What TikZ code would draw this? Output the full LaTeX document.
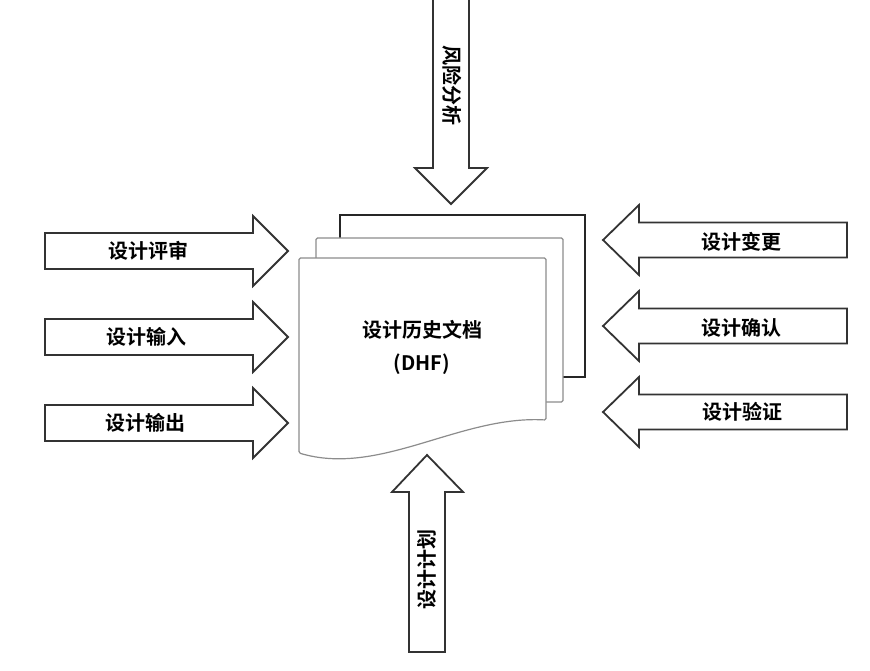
\documentclass[tikz,border=0pt]{standalone}
\usepackage{fontspec}
\newfontfamily\cjk{Noto Sans CJK SC Bold}
\begin{document}
\begin{tikzpicture}[x=1pt,y=-1pt,
  arr/.style={draw=black!80,line width=1.8pt,fill=white,line join=miter},
  lbl/.style={font=\cjk\fontsize{20}{20}\selectfont,inner sep=0pt},
  pgback/.style={draw=black!85,line width=1.8pt,fill=white},
  pgfront/.style={draw=black!45,line width=1.2pt,fill=white,rounded corners=1.5pt}]
\useasboundingbox (0,0) rectangle (870,671);
\clip (0,0) rectangle (870,671);
% pages
\path[pgback] (340,377) -- (340,215) -- (585,215) -- (585,377) -- cycle;
\path[pgfront] (316,402) -- (316,238) -- (563,238) -- (563,402) -- cycle;
\path[pgfront] (299,453) -- (299,258) -- (546,258) -- (546,420)
  .. controls (460,415) and (380,477) .. (299,453) -- cycle;
\node[lbl] (t1) at (422,330) {设计历史文档};
\node[lbl] (t2) at (422,364) {(DHF)};
% left arrows (pointing right)
\foreach \yc in {251,337,423}{
  \path[arr] (45,\yc-18) -- (253,\yc-18) -- (253,\yc-35) -- (288,\yc)
    -- (253,\yc+35) -- (253,\yc+18) -- (45,\yc+18) -- cycle;
}
\node[lbl] (l1) at (148,251) {设计评审};
\node[lbl] (l2) at (146,337) {设计输入};
\node[lbl] (l3) at (145,423) {设计输出};
% right arrows (pointing left)
\foreach \yc in {240,326,412}{
  \path[arr] (847,\yc-17.5) -- (639,\yc-17.5) -- (639,\yc-35) -- (603,\yc)
    -- (639,\yc+35) -- (639,\yc+17.5) -- (847,\yc+17.5) -- cycle;
}
\node[lbl] (r1) at (741,242) {设计变更};
\node[lbl] (r2) at (741,328) {设计确认};
\node[lbl] (r3) at (742,412) {设计验证};
% top arrow (pointing down)
\path[arr] (433,-5) -- (433,168) -- (415,168) -- (451,204) -- (487,168)
  -- (469,168) -- (469,-5) -- cycle;
\node[lbl,rotate=-90] (tp) at (452,86) {风险分析};
% bottom arrow (pointing up)
\path[arr] (409,652) -- (409,492) -- (392,492) -- (427,455) -- (463,492)
  -- (445,492) -- (445,652) -- cycle;
\node[lbl,rotate=90] (bt) at (427,569) {设计计划};
\end{tikzpicture}
\end{document}
